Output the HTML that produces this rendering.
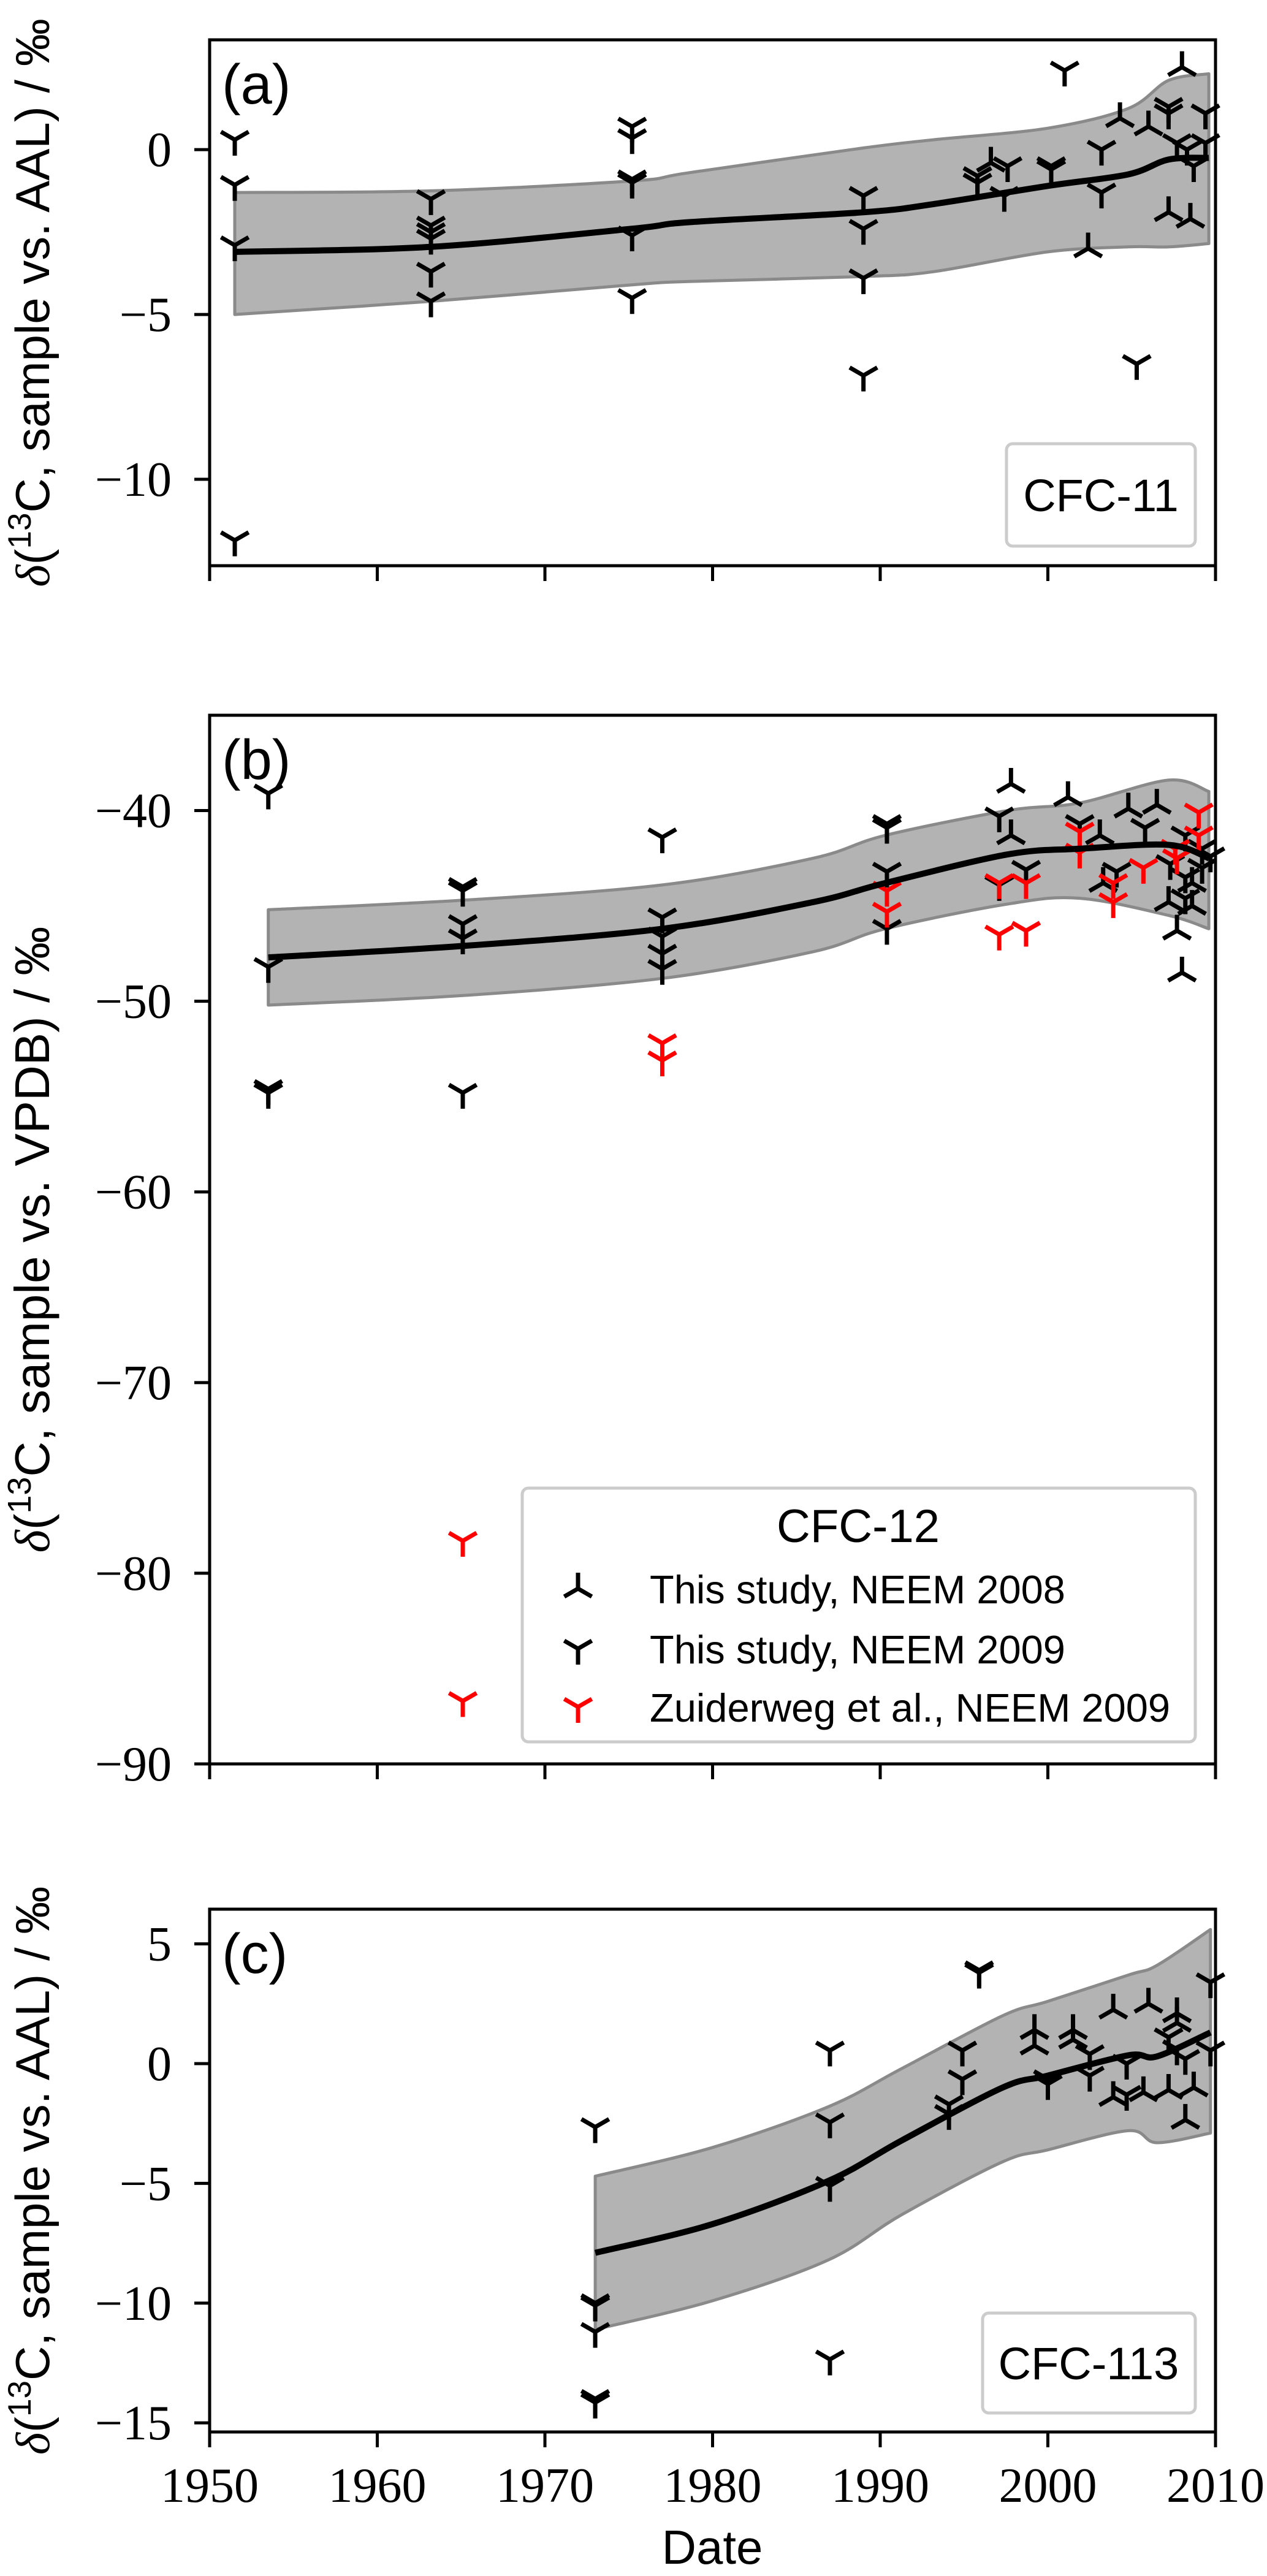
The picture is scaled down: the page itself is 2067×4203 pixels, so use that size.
<!DOCTYPE html>
<html><head><meta charset="utf-8"><style>
html,body{margin:0;padding:0;background:#fff;}
svg{display:block;}
.tk{font-family:"Liberation Serif",serif;font-size:80px;fill:#000;}
.sl{font-family:"Liberation Sans",sans-serif;fill:#000;}
</style></head><body>
<svg id="fig" xmlns="http://www.w3.org/2000/svg" width="2067" height="4203" viewBox="0 0 2067 4203">
<rect x="0" y="0" width="2067" height="4203" fill="#fff"/>
</svg>
<script>
// ---- Panel (a) CFC-11 ----
const aCurveX=[1951.5,1963.2,1975.2,1978.6,1989,1993.2,2000,2004.8,2007.2,2009.6];
const aCurveY=[-3.1,-2.95,-2.4,-2.2,-1.9,-1.65,-1.1,-0.75,-0.3,-0.25];
const aUpperY=[-1.3,-1.25,-0.95,-0.7,0.05,0.3,0.65,1.25,2.1,2.3];
const aLowerY=[-5.0,-4.6,-4.1,-4.0,-3.85,-3.7,-3.1,-2.95,-2.95,-2.85];
const a09X=[1951.5,1951.5,1951.5,1951.5,1963.2,1963.2,1963.2,1963.2,1963.2,1963.2,1975.2,1975.2,1975.2,1975.2,1975.2,1975.2,1989,1989,1989,1989,1995.8,1995.8,1997.6,1997.4,2000.2,2000.2,2001,2003.2,2003.2,2005.3,2007.2,2007.2,2007.7,2008.3,2008.7,2009.4,2009.4];
const a09Y=[0.3,-1.07,-2.9,-11.85,-1.5,-2.3,-2.5,-2.7,-3.7,-4.6,0.7,0.35,-0.9,-1.0,-2.6,-4.5,-1.4,-2.4,-3.9,-6.85,-0.8,-1.0,-0.5,-1.4,-0.5,-0.6,2.4,0,-1.3,-6.5,1.3,1.1,0.2,0,-0.5,1.1,0.2];
const a08X=[1996.6,2002.4,2004.3,2006.0,2007.2,2008.0,2008.5];
const a08Y=[-0.4,-3.0,0.95,0.7,-1.9,2.5,-2.1];
// ---- Panel (b) CFC-12 ----
const bCurveX=[1953.5,1965.1,1977,1986,1990.3,1997.6,2001.9,2007.2,2009.6];
const bCurveY=[-47.7,-47.1,-46.2,-44.8,-43.8,-42.3,-42.0,-41.8,-42.5];
const bUpperY=[-45.2,-44.7,-43.9,-42.5,-41.3,-40.0,-39.6,-38.4,-39.0];
const bLowerY=[-50.2,-49.7,-48.8,-47.4,-46.2,-44.9,-44.6,-45.5,-46.2];
const b09X=[1953.5,1953.5,1953.5,1953.5,1965.1,1965.1,1965.1,1965.1,1965.1,1977,1977,1977,1977,1977,1990.4,1990.4,1990.4,1990.4,1997.1,1997.1,1998.7,2001.9,2004.1,2005.8,2007.3,2008.2,2008.2,2008.2,2009.2,2009.2,2009.7];
const b09Y=[-39.1,-48.2,-54.6,-54.8,-44.0,-44.2,-45.95,-46.7,-54.8,-41.4,-45.6,-46.6,-47.5,-48.3,-40.7,-40.9,-43.2,-46.2,-40.3,-43.9,-43.1,-40.7,-43.2,-40.9,-42.8,-41.3,-43.5,-44.6,-42.0,-43.0,-42.4];
const b08X=[1997.8,1997.8,2001.2,2003.1,2003.3,2004.8,2006.5,2007.2,2007.7,2008.0,2008.6,2008.6];
const b08Y=[-38.6,-41.3,-39.3,-41.3,-43.8,-39.9,-39.7,-44.8,-46.3,-48.5,-43.8,-45.0];
const bZX=[1965.1,1965.1,1977,1977,1990.4,1990.4,1997.1,1997.1,1998.7,1998.7,2001.9,2001.9,2003.9,2003.9,2005.7,2007.6,2007.7,2009.0,2009.0];
const bZY=[-78.3,-86.7,-52.2,-53.1,-44.2,-45.3,-43.8,-46.5,-43.8,-46.3,-41.1,-42.2,-43.8,-44.8,-43.0,-42.0,-42.5,-40.1,-41.3];
// ---- Panel (c) CFC-113 ----
const cCurveX=[1973,1980,1986.9,1991.3,1997.3,2000,2004.8,2006.5,2009.7];
const cCurveY=[-7.9,-6.7,-4.9,-3.2,-1.0,-0.5,0.35,0.3,1.3];
const cUpperY=[-4.7,-3.5,-1.8,-0.2,2.0,2.6,3.7,4.1,5.6];
const cLowerY=[-11.1,-9.9,-8.2,-6.3,-4.1,-3.6,-2.8,-3.3,-2.9];
const c09X=[1973,1973,1973,1973,1973,1973,1987,1987,1987,1987,1994.1,1994.1,1994.9,1994.9,1995.9,1995.9,2000,2000,2002.5,2002.5,2004.7,2004.7,2007.2,2007.7,2008.2,2009.7,2009.7];
const c09Y=[-2.65,-10.0,-10.1,-11.2,-14.0,-14.15,0.55,-2.45,-5.1,-12.35,-1.7,-2.1,0.55,-0.65,3.9,3.8,-0.65,-0.85,0.4,-0.5,0,-1.3,1.1,0.6,0.2,3.4,0.55];
const c08X=[1999.2,1999.2,2001.5,2001.5,2003.9,2003.9,2005.7,2006.0,2007.2,2007.7,2007.7,2008.2,2008.7];
const c08Y=[1.4,0.75,1.4,1.0,2.25,-1.4,-1.2,2.5,-1.1,2.1,1.7,-2.35,-1.0];

const NS='http://www.w3.org/2000/svg';
const fig=document.getElementById('fig');
function mk(tag,attrs,parent){const e=document.createElementNS(NS,tag);for(const k in attrs)e.setAttribute(k,attrs[k]);(parent||fig).appendChild(e);return e;}

const X0=342,X1=1983;
function sx(v){return X0+(v-1950)/(2010-1950)*(X1-X0);}

function smooth(pts,start){
  let d=start?'M'+pts[0][0].toFixed(1)+','+pts[0][1].toFixed(1):'L'+pts[0][0].toFixed(1)+','+pts[0][1].toFixed(1);
  for(let i=0;i<pts.length-1;i++){
    const p0=pts[Math.max(i-1,0)],p1=pts[i],p2=pts[i+1],p3=pts[Math.min(i+2,pts.length-1)];
    const c1=[p1[0]+(p2[0]-p0[0])/6,p1[1]+(p2[1]-p0[1])/6];
    const c2=[p2[0]-(p3[0]-p1[0])/6,p2[1]-(p3[1]-p1[1])/6];
    d+=`C${c1[0].toFixed(1)},${c1[1].toFixed(1)} ${c2[0].toFixed(1)},${c2[1].toFixed(1)} ${p2[0].toFixed(1)},${p2[1].toFixed(1)}`;
  }
  return d;
}

function panel(cfg){
  const g=mk('g',{});
  
  
  const sy=v=>cfg.top+(cfg.ymax-v)/(cfg.ymax-cfg.ymin)*(cfg.bot-cfg.top);
  const up=cfg.cx.map((x,i)=>[sx(x),sy(cfg.up[i])]);
  const lo=cfg.cx.map((x,i)=>[sx(x),sy(cfg.lo[i])]).reverse();
  const d=smooth(up,true)+smooth(lo,false)+'Z';
  const band=mk('path',{d:d,fill:'#b3b3b3',stroke:'#8a8a8a','stroke-width':5,'stroke-linejoin':'round'},g);
  
  
  function tri(x,y,up,color,parent){
    const L=26,dx=L*0.866,dy=L*0.5;
    const px=sx(x),py=sy(y);
    let p;
    if(!up) p=`M${px},${py}L${px},${py+L}M${px},${py}L${px-dx},${py-dy}M${px},${py}L${px+dx},${py-dy}`;
    else p=`M${px},${py}L${px},${py-L}M${px},${py}L${px-dx},${py+dy}M${px},${py}L${px+dx},${py+dy}`;
    const m=mk('path',{d:p,stroke:color,'stroke-width':7,fill:'none'},parent);
    
    
  }
  cfg.s09x.forEach((x,i)=>tri(x,cfg.s09y[i],false,'#000',g));
  cfg.s08x.forEach((x,i)=>tri(x,cfg.s08y[i],true,'#000',g));
  if(cfg.zx) cfg.zx.forEach((x,i)=>{
    const L=26,dx=L*0.866,dy=L*0.5,px=sx(x),py=sy(cfg.zy[i]);
    const m=mk('path',{d:`M${px},${py}L${px},${py+L}M${px},${py}L${px-dx},${py-dy}M${px},${py}L${px+dx},${py-dy}`,stroke:'#ff0000','stroke-width':7,fill:'none'},g);
    
    
  });
  const cpts=cfg.cx.map((x,i)=>[sx(x),sy(cfg.cy[i])]);
  const line=mk('path',{d:smooth(cpts,true),fill:'none',stroke:'#000','stroke-width':10,'stroke-linejoin':'round'},g);
  
  
  const fr=mk('rect',{x:X0,y:cfg.top,width:X1-X0,height:cfg.bot-cfg.top,fill:'none',stroke:'#000','stroke-width':5},g);
  
  
  cfg.yt.forEach(v=>{
    const y=sy(v);
    const t=mk('line',{x1:X0,x2:X0-25,y1:y,y2:y,stroke:'#000','stroke-width':5},g);
    
    
    const tx=mk('text',{x:280,y:y+27,'text-anchor':'end',class:'tk'},g);
    
    
    tx.textContent=(v<0?'\u2212':'')+Math.abs(v);
  });
  [1950,1960,1970,1980,1990,2000,2010].forEach(v=>{
    const x=sx(v);
    const t=mk('line',{x1:x,x2:x,y1:cfg.bot,y2:cfg.bot+25,stroke:'#000','stroke-width':5},g);
    
    
    if(cfg.xlabels){
      const tx=mk('text',{x:x,y:4082,'text-anchor':'middle',class:'tk'},g);
      
      
      tx.textContent=v;
    }
  });
  const pl=mk('text',{x:362,y:cfg.top+104,class:'sl','font-size':92},g);
  
  
  pl.textContent=cfg.letter;
  const cy=(cfg.top+cfg.bot)/2;
  const yl=mk('text',{x:0,y:0,class:'sl','font-size':cfg.ylfs,'text-anchor':'middle',transform:`translate(${cfg.ylx},${cy}) rotate(-90)`},g);
  
  
  yl.innerHTML=`<tspan font-family="Liberation Serif" font-style="italic">δ</tspan>(<tspan font-size="${Math.round(cfg.ylfs*0.68)}" dy="-30">13</tspan><tspan dy="30">C, sample vs. ${cfg.ref}) / ‰</tspan>`;
  return {g,sy};
}

panel({name:'panel-a-cfc11',letter:'(a)',top:65,bot:923,ymin:-12.62,ymax:3.33,yt:[0,-5,-10],ref:'AAL',ylfs:78,ylx:80,
  cx:aCurveX,cy:aCurveY,up:aUpperY,lo:aLowerY,s09x:a09X,s09y:a09Y,s08x:a08X,s08y:a08Y});
panel({name:'panel-b-cfc12',letter:'(b)',top:1167,bot:2878,ymin:-90,ymax:-35,yt:[-40,-50,-60,-70,-80,-90],ref:'VPDB',ylfs:80,ylx:80,
  cx:bCurveX,cy:bCurveY,up:bUpperY,lo:bLowerY,s09x:b09X,s09y:b09Y,s08x:b08X,s08y:b08Y,zx:bZX,zy:bZY});
panel({name:'panel-c-cfc113',letter:'(c)',top:3115,bot:3968,ymin:-15.38,ymax:6.45,yt:[5,0,-5,-10,-15],ref:'AAL',xlabels:true,ylfs:78,ylx:80,
  cx:cCurveX,cy:cCurveY,up:cUpperY,lo:cLowerY,s09x:c09X,s09y:c09Y,s08x:c08X,s08y:c08Y});

const xt=mk('text',{x:1162,y:4183,'text-anchor':'middle',class:'sl','font-size':78});


xt.textContent='Date';

function legendBox(x,y,w,h,name){
  const r=mk('rect',{x:x,y:y,width:w,height:h,rx:10,fill:'#fff','fill-opacity':0.8,stroke:'#cccccc','stroke-width':5});
  
  
}
legendBox(1642,724,308,167,'legend-cfc11');
const la=mk('text',{x:1796,y:834,'text-anchor':'middle',class:'sl','font-size':74});


la.textContent='CFC-11';
legendBox(1603,3774,347,163,'legend-cfc113');
const lc=mk('text',{x:1776,y:3882,'text-anchor':'middle',class:'sl','font-size':74});


lc.textContent='CFC-113';
legendBox(852,2428,1098,414,'legend-cfc12');
const lb=mk('text',{x:1400,y:2516,'text-anchor':'middle',class:'sl','font-size':76});


lb.textContent='CFC-12';
const entries=[['This study, NEEM 2008',true,'#000',2592],['This study, NEEM 2009',false,'#000',2690],['Zuiderweg et al., NEEM 2009',false,'#ff0000',2785]];
entries.forEach(e=>{
  const L=26,dx=L*0.866,dy=L*0.5,px=943,py=e[3];
  const p=e[1]?`M${px},${py}L${px},${py-L}M${px},${py}L${px-dx},${py+dy}M${px},${py}L${px+dx},${py+dy}`:`M${px},${py}L${px},${py+L}M${px},${py}L${px-dx},${py-dy}M${px},${py}L${px+dx},${py-dy}`;
  const m=mk('path',{d:p,stroke:e[2],'stroke-width':7,fill:'none'});
  
  
  const t=mk('text',{x:1060,y:e[3]+24,class:'sl','font-size':65});
  
  
  t.textContent=e[0];
});
</script>
</body></html>
